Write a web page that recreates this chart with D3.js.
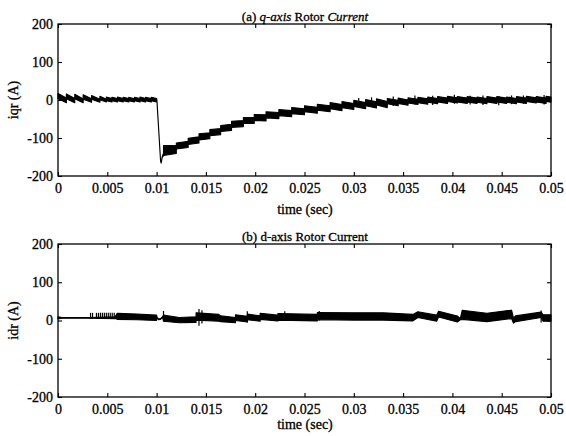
<!DOCTYPE html>
<html>
<head>
<meta charset="utf-8">
<script src="https://cdn.jsdelivr.net/npm/d3@7"></script>
<style>
  html, body { margin: 0; padding: 0; background: #fff; }
  svg { display: block; }
  text { font-family: "Liberation Serif", "Times New Roman", serif; fill: #000; stroke: #000; stroke-width: 0.3px; }
</style>
</head>
<body>
<svg id="chart" width="566" height="436"></svg>
<script>
// Time axis ticks (seconds) and their printed labels
const xTicks = [0, 0.005, 0.01, 0.015, 0.02, 0.025, 0.03, 0.035, 0.04, 0.045, 0.05];
const xTickLabels = ["0", "0.005", "0.01", "0.015", "0.02", "0.025", "0.03", "0.035", "0.04", "0.045", "0.05"];
const yTicks = [200, 100, 0, -100, -200];
const yTickLabels = ["200", "100", "0", "-100", "-200"];

// (a) q-axis rotor current: ripple band as [time, lower edge, upper edge] (A)
const qTime = [
  0.00000, 0.00085, 0.00085, 0.00170, 0.00170, 0.00255, 0.00255, 0.00340, 0.00340, 0.00425, 0.00425, 0.00490,
  0.00490, 0.00547, 0.00547, 0.00604, 0.00604, 0.00661, 0.00661, 0.00718, 0.00718, 0.00775, 0.00775, 0.00832,
  0.00832, 0.00889, 0.00889, 0.00946, 0.00946, 0.01000,
  0.01003, 0.01040, 0.01046, 0.01058, 0.01070,
  0.0107, 0.0120, 0.0120, 0.0132, 0.0132, 0.0143, 0.0143, 0.0154, 0.0154, 0.0165, 0.0165, 0.0176,
  0.0176, 0.0188, 0.0188, 0.0199, 0.0199, 0.0211, 0.0211, 0.0224, 0.0224, 0.0237, 0.0237, 0.0250,
  0.0250, 0.0263, 0.0263, 0.0276, 0.0276, 0.0288, 0.0288, 0.0300, 0.0300, 0.0312, 0.0312, 0.0323,
  0.0323, 0.0334, 0.0334, 0.0345, 0.0345, 0.0355, 0.0355, 0.0365, 0.0365, 0.0375, 0.0375, 0.0385,
  0.0385, 0.0395, 0.0395, 0.0405, 0.0405, 0.0415, 0.0415, 0.0425, 0.0425, 0.0435, 0.0435, 0.0445,
  0.0445, 0.0455, 0.0455, 0.0465, 0.0465, 0.0475, 0.0475, 0.0485, 0.0485, 0.0495, 0.0495, 0.0500
];
const qLow = [
  4, -7, 3, -7, 3, -7, 2, -6, 2, -6, 1, -5,
  -2, -5, -2, -5, -2, -5, -2, -5, -2, -5, -2, -5,
  -2, -5, -2, -5, -2, -5,
  -1, -160, -166, -150, -147,
  -146, -141, -129, -125, -117, -113, -105, -102, -94, -91, -83, -80,
  -72, -70, -62, -62, -54, -55, -47, -49, -41, -44, -36, -39,
  -31, -35, -27, -31, -23, -28, -20, -25, -17, -23, -15, -21,
  -13, -20, -10, -15, -9, -14, -8, -12, -7, -11, -6, -10,
  -5, -9, -4, -8, -5, -9, -5, -9, -6, -10, -5, -9,
  -5, -9, -6, -10, -5, -9, -4, -8, -5, -9, -4, -6
];
const qHigh = [
  17, 5, 16, 4, 15, 3, 14, 3, 12, 2, 10, 2,
  8, 4, 7, 4, 8, 4, 7, 4, 7, 3, 7, 4,
  8, 4, 7, 4, 7, 4,
  1, -158, -164, -148, -140,
  -120, -119, -113, -109, -101, -97, -89, -86, -78, -75, -67, -64,
  -56, -54, -46, -46, -38, -39, -31, -33, -25, -28, -20, -23,
  -15, -19, -11, -15, -7, -12, -4, -9, -1, -7, 1, -5,
  3, -4, 4, -1, 5, 0, 6, 2, 7, 3, 8, 4,
  9, 5, 10, 6, 9, 5, 9, 5, 8, 4, 9, 5,
  9, 5, 8, 4, 9, 5, 10, 6, 9, 5, 10, 8
];
// Isolated switching spikes on the q-axis trace
const qSpikeTime = [0.0305, 0.0318, 0.0340, 0.0362, 0.0380, 0.0402, 0.0418, 0.0431, 0.0447, 0.0460, 0.0472, 0.0493];
const qSpikeLow = [-17, -15, -16, -12, -13, -10, -12, -13, -14, -11, -10, -12];
const qSpikeHigh = [5, 7, 9, 12, 11, 14, 11, 12, 10, 12, 12, 13];

// (b) d-axis rotor current: ripple band as [time, lower edge, upper edge] (A)
const dTime = [
  0.0000, 0.0004, 0.0031, 0.0058, 0.0060, 0.0080, 0.0100, 0.01005, 0.0102, 0.0104, 0.0106,
  0.0107, 0.0123, 0.0140, 0.0140, 0.0163, 0.0165, 0.0180, 0.0180, 0.0192, 0.0192, 0.0205,
  0.0205, 0.0223, 0.0223, 0.0263, 0.0263, 0.0300, 0.0330, 0.0360, 0.0365, 0.0384, 0.0386,
  0.0405, 0.0408, 0.0410, 0.0435, 0.0460, 0.0462, 0.0464, 0.0490, 0.0492, 0.0500
];
const dLow = [
  4, 6, 6, 5, 3, 2, 0, 6, 2, 3, 8,
  -2, -6, -5, 1, -2, -3, -6, 0, -4, 2, -2,
  3, -1, 1, -1, 2, 1, 1, -1, 8, -2, 9,
  -4, 2, 3, -3, 5, -7, -3, 8, -2, -2
];
const dHigh = [
  10, 8, 8, 10, 19, 17, 14, 8, 4, 5, 10,
  14, 8, 10, 20, 16, 12, 8, 15, 11, 17, 12,
  19, 14, 18, 16, 21, 20, 20, 16, 23, 14, 24,
  12, 5, 27, 19, 27, 6, 12, 22, 15, 15
];
// Isolated switching spikes on the d-axis trace
const dSpikeTime = [0.0033, 0.0035, 0.0039, 0.0041, 0.0043, 0.0045, 0.0047, 0.0049, 0.0051, 0.0053, 0.0055, 0.0057,
  0.0107, 0.0143, 0.0146, 0.0192, 0.0230, 0.0265, 0.0490];
const dSpikeLow = [5, 5, 5, 5, 5, 5, 5, 5, 5, 5, 5, 5, 5, -14, -8, -5, 0, 0, -5];
const dSpikeHigh = [20, 20, 20, 20, 20, 20, 20, 20, 20, 20, 20, 20, 25, 30, 27, 24, 24, 25, 26];

const svg = d3.select("#chart");
const left = 58, right = 551;
const x = d3.scaleLinear().domain([0, 0.05]).range([left, right]);

function panel(cfg) {
  const y = d3.scaleLinear().domain([-200, 200]).range([cfg.bottom, cfg.top]);
  const g = svg.append("g");

  // trace band
  const rows = cfg.t.map((t, i) => ({ t, lo: cfg.lo[i], hi: cfg.hi[i] }));
  const area = d3.area().x(d => x(d.t)).y0(d => y(d.lo)).y1(d => y(d.hi));
  g.append("path").datum(rows).attr("d", area)
    .attr("fill", "#000").attr("stroke", "#000").attr("stroke-width", 1.1)
    .attr("stroke-linejoin", "round");

  if (cfg.spikeT) {
    g.selectAll("line.spike").data(cfg.spikeT).join("line")
      .attr("class", "spike")
      .attr("x1", d => x(d)).attr("x2", d => x(d))
      .attr("y1", (d, i) => y(cfg.spikeLo[i])).attr("y2", (d, i) => y(cfg.spikeHi[i]))
      .attr("stroke", "#000").attr("stroke-width", 1.2);
  }

  // axes with inward ticks on all four sides
  const fmtX = (d, i) => xTickLabels[i];
  const fmtY = (d, i) => yTickLabels[i];
  const ax = [
    g.append("g").attr("transform", `translate(0,${cfg.bottom})`)
      .call(d3.axisBottom(x).tickValues(xTicks).tickFormat(fmtX).tickSize(-4).tickPadding(7)),
    g.append("g").attr("transform", `translate(0,${cfg.top})`)
      .call(d3.axisTop(x).tickValues(xTicks).tickFormat("").tickSize(-4)),
    g.append("g").attr("transform", `translate(${left},0)`)
      .call(d3.axisLeft(y).tickValues(yTicks).tickFormat(fmtY).tickSize(-4).tickPadding(5)),
    g.append("g").attr("transform", `translate(${right},0)`)
      .call(d3.axisRight(y).tickValues(yTicks).tickFormat("").tickSize(-4))
  ];
  ax.forEach(a => {
    a.select(".domain").remove();
    a.selectAll(".tick line").attr("stroke", "#000").attr("stroke-width", 1.1);
    a.selectAll("text").attr("font-size", 14).attr("font-family", "Liberation Serif, serif").attr("fill", "#000");
  });

  g.append("rect").attr("x", left).attr("y", cfg.top)
    .attr("width", right - left).attr("height", cfg.bottom - cfg.top)
    .attr("fill", "none").attr("stroke", "#000").attr("stroke-width", 1.3);

  // title above the frame
  const title = g.append("text").attr("x", 305).attr("y", cfg.top - 3)
    .attr("text-anchor", "middle").attr("font-size", 13);
  cfg.title.forEach(p => title.append("tspan").text(p.s).attr("font-style", p.it ? "italic" : "normal"));

  g.append("text").attr("x", 305).attr("y", cfg.bottom + cfg.xlabelGap)
    .attr("text-anchor", "middle").attr("font-size", 14).text("time (sec)");

  g.append("text")
    .attr("transform", `translate(18,${(cfg.top + cfg.bottom) / 2}) rotate(-90)`)
    .attr("text-anchor", "middle").attr("font-size", 14).text(cfg.ylabel);
}

panel({
  top: 24, bottom: 176, t: qTime, lo: qLow, hi: qHigh, xlabelGap: 38,
  spikeT: qSpikeTime, spikeLo: qSpikeLow, spikeHi: qSpikeHigh,
  title: [{ s: "(a) " }, { s: "q-axis", it: true }, { s: " Rotor " }, { s: "Current", it: true }],
  ylabel: "iqr (A)"
});
panel({
  top: 244, bottom: 397, t: dTime, lo: dLow, hi: dHigh, xlabelGap: 32,
  spikeT: dSpikeTime, spikeLo: dSpikeLow, spikeHi: dSpikeHigh,
  title: [{ s: "(b) d-axis Rotor Current" }],
  ylabel: "idr (A)"
});
</script>
</body>
</html>
